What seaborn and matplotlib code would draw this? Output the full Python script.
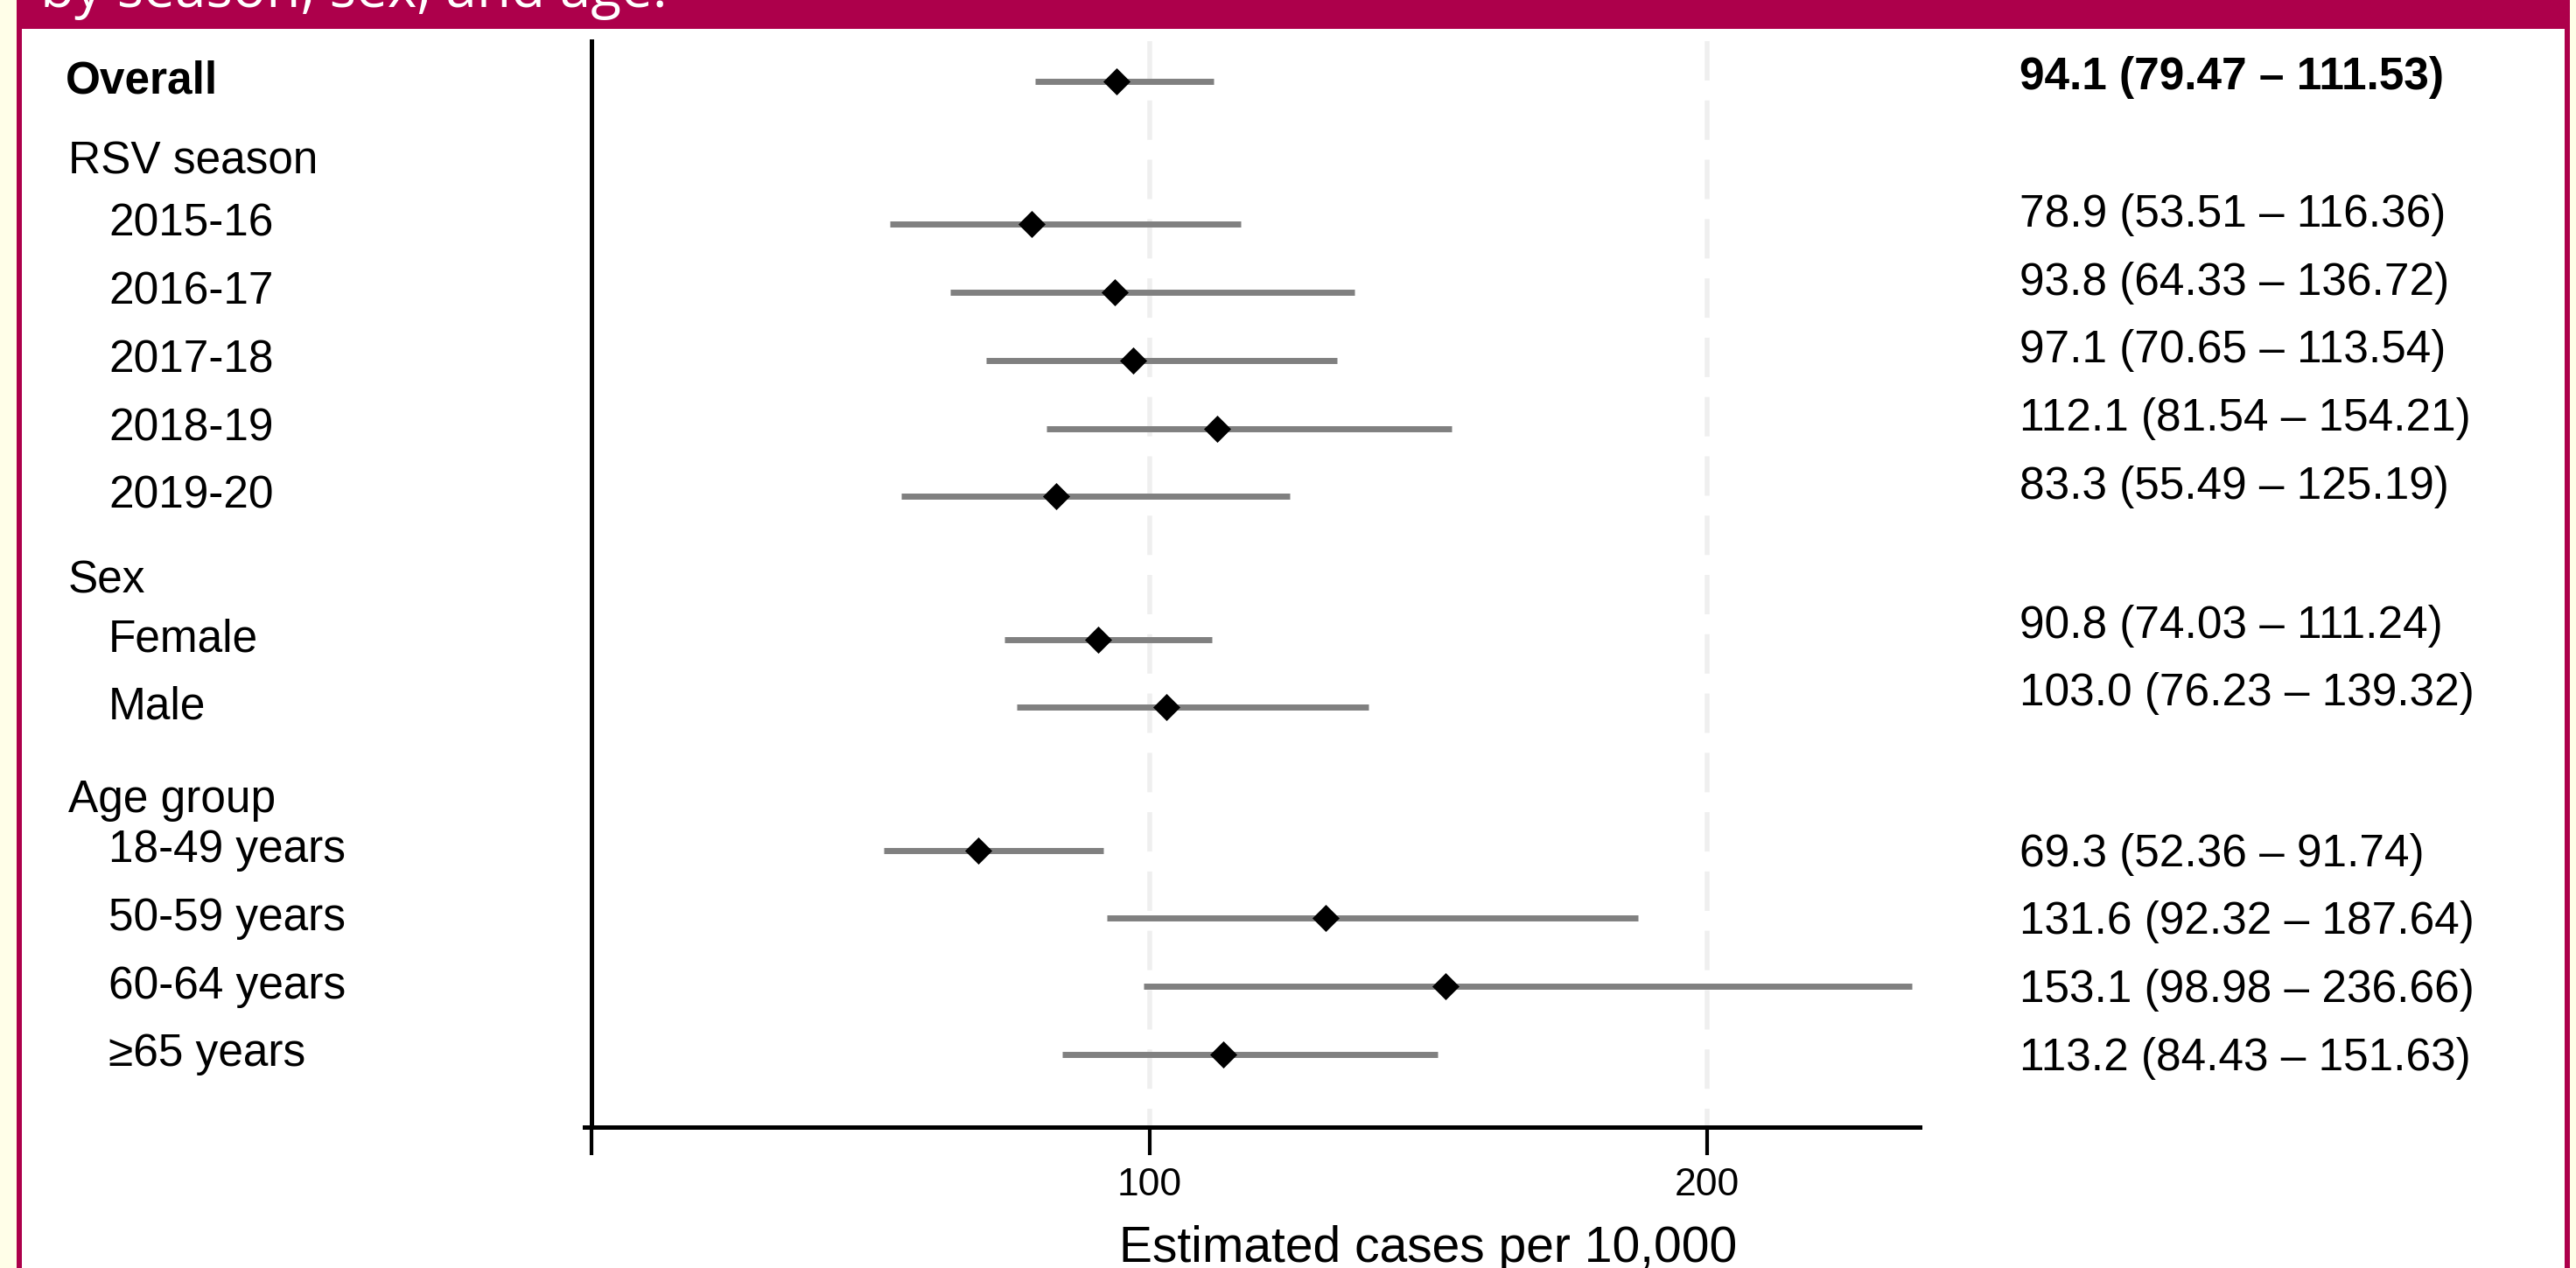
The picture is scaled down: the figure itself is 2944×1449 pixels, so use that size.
import numpy as np
import pandas as pd
import seaborn as sns
import matplotlib.pyplot as plt
from matplotlib.patches import Rectangle

# ---- data ----
overall_label = "Overall"
overall_est = 94.1
overall_low = 79.47
overall_high = 111.53
overall_text = "94.1 (79.47 \u2013 111.53)"

season_labels = ["2015-16", "2016-17", "2017-18", "2018-19", "2019-20"]
season_est = [78.9, 93.8, 97.1, 112.1, 83.3]
season_low = [53.51, 64.33, 70.65, 81.54, 55.49]
season_high = [116.36, 136.72, 133.54, 154.21, 125.19]
season_text = ["78.9 (53.51 \u2013 116.36)", "93.8 (64.33 \u2013 136.72)",
               "97.1 (70.65 \u2013 113.54)", "112.1 (81.54 \u2013 154.21)",
               "83.3 (55.49 \u2013 125.19)"]

sex_labels = ["Female", "Male"]
sex_est = [90.8, 103.0]
sex_low = [74.03, 76.23]
sex_high = [111.24, 139.32]
sex_text = ["90.8 (74.03 \u2013 111.24)", "103.0 (76.23 \u2013 139.32)"]

age_labels = ["18-49 years", "50-59 years", "60-64 years", "\u226565 years"]
age_est = [69.3, 131.6, 153.1, 113.2]
age_low = [52.36, 92.32, 98.98, 84.43]
age_high = [91.74, 187.64, 236.66, 151.63]
age_text = ["69.3 (52.36 \u2013 91.74)", "131.6 (92.32 \u2013 187.64)",
            "153.1 (98.98 \u2013 236.66)", "113.2 (84.43 \u2013 151.63)"]

group_names = ["RSV season", "Sex", "Age group"]
x_ticks = [0, 100, 200]
x_tick_labels = ["", "100", "200"]
x_title = "Estimated cases per 10,000"
header_title = "by season, sex, and age."

# ---- build table with row layout ----
rows = [dict(label=overall_label, est=overall_est, low=overall_low,
             high=overall_high, text=overall_text, ypos=0.0, grp="overall")]
headers = []
groups = [(season_labels, season_est, season_low, season_high, season_text, "season"),
          (sex_labels, sex_est, sex_low, sex_high, sex_text, "sex"),
          (age_labels, age_est, age_low, age_high, age_text, "age")]
header_gap = [0.92, 0.85, 0.73]
pos = 0.0
for name, gap, (labs, est, lo, hi, txt, key) in zip(group_names, header_gap, groups):
    pos += 2.1
    headers.append((name, pos - gap))
    for i in range(len(labs)):
        rows.append(dict(label=labs[i], est=est[i], low=lo[i], high=hi[i],
                         text=txt[i], ypos=pos, grp=key))
        pos += 1.0
    pos -= 1.0
df = pd.DataFrame(rows)
text_shift = {"overall": -0.06, "season": -0.14, "sex": -0.2, "age": 0.06}

# ---- figure ----
W, H, DPI = 2944, 1449, 100
sns.set_theme(style="white")
plt.rcParams["font.family"] = ["Liberation Sans", "DejaVu Sans"]

fig = plt.figure(figsize=(W / DPI, H / DPI), dpi=DPI)
fig.patch.set_facecolor("white")

crimson = "#AD004B"
cream = "#FFFEE8"


def px_rect(x0, y0, x1, y1, color):
    fig.patches.append(Rectangle((x0 / W, 1 - y1 / H), (x1 - x0) / W, (y1 - y0) / H,
                                 transform=fig.transFigure, facecolor=color,
                                 edgecolor="none", zorder=1))


px_rect(0, 0, 19, H, cream)
px_rect(2937, 0, W, H, cream)
px_rect(19, 0, 25, H, crimson)
px_rect(2931, 0, 2937, H, crimson)
px_rect(19, 0, 2937, 33, crimson)
fig.text(46 / W, 1 - 8 / H, header_title, color="white", fontsize=46,
         ha="left", va="baseline", family=["Open Sans", "DejaVu Sans"], zorder=5)

ax = fig.add_axes([668 / W, 1 - 1288 / H, 1526 / W, 1241 / H])
ax.patch.set_visible(False)

y_top, y_bot = -0.592, 15.37
for gx in [100, 200]:
    ax.plot([gx, gx], [y_top, y_bot], color="#EFEFEF", lw=4,
            dashes=(8.1, 4.1), dash_capstyle="butt", zorder=0.5)

ax.hlines(df["ypos"], df["low"], df["high"], color="#808080", lw=5, zorder=2)
sns.scatterplot(data=df, x="est", y="ypos", marker="D", s=250, color="black",
                linewidth=0, ax=ax, zorder=3, legend=False)

ax.set_xlim(-1.3, 238.1)
ax.set_ylim(y_bot, y_top)

ax.spines[["top", "right"]].set_visible(False)
ax.spines["left"].set_position(("data", 0))
for s in ["left", "bottom"]:
    ax.spines[s].set_linewidth(3.6)
    ax.spines[s].set_color("black")
ax.set_yticks([])
ax.set_ylabel("")
ax.set_xticks(x_ticks)
ax.set_xticklabels(x_tick_labels)
ax.tick_params(axis="x", length=23, width=3, direction="out", color="black",
               pad=10, labelsize=32, labelcolor="black", bottom=True)
ax.set_xlabel(x_title, fontsize=41, color="black")
ax.xaxis.set_label_coords(0.632, -0.112)
ax.xaxis.label.set_va("center")

tr = ax.get_yaxis_transform()
for _, r in df.iterrows():
    bold = r["grp"] == "overall"
    lx = -0.3886 if bold else -0.3565
    ax.text(lx, r["ypos"], r["label"], transform=tr, ha="left", va="center",
            fontsize=37, fontweight="bold" if bold else "normal", color="black")
    ax.text(1.0747, r["ypos"] + text_shift[r["grp"]], r["text"], transform=tr,
            ha="left", va="center", fontsize=37,
            fontweight="bold" if bold else "normal", color="black")
for name, hy in headers:
    ax.text(-0.3866, hy, name, transform=tr, ha="left", va="center",
            fontsize=37, color="black")

fig.savefig("out.png", dpi=DPI)
